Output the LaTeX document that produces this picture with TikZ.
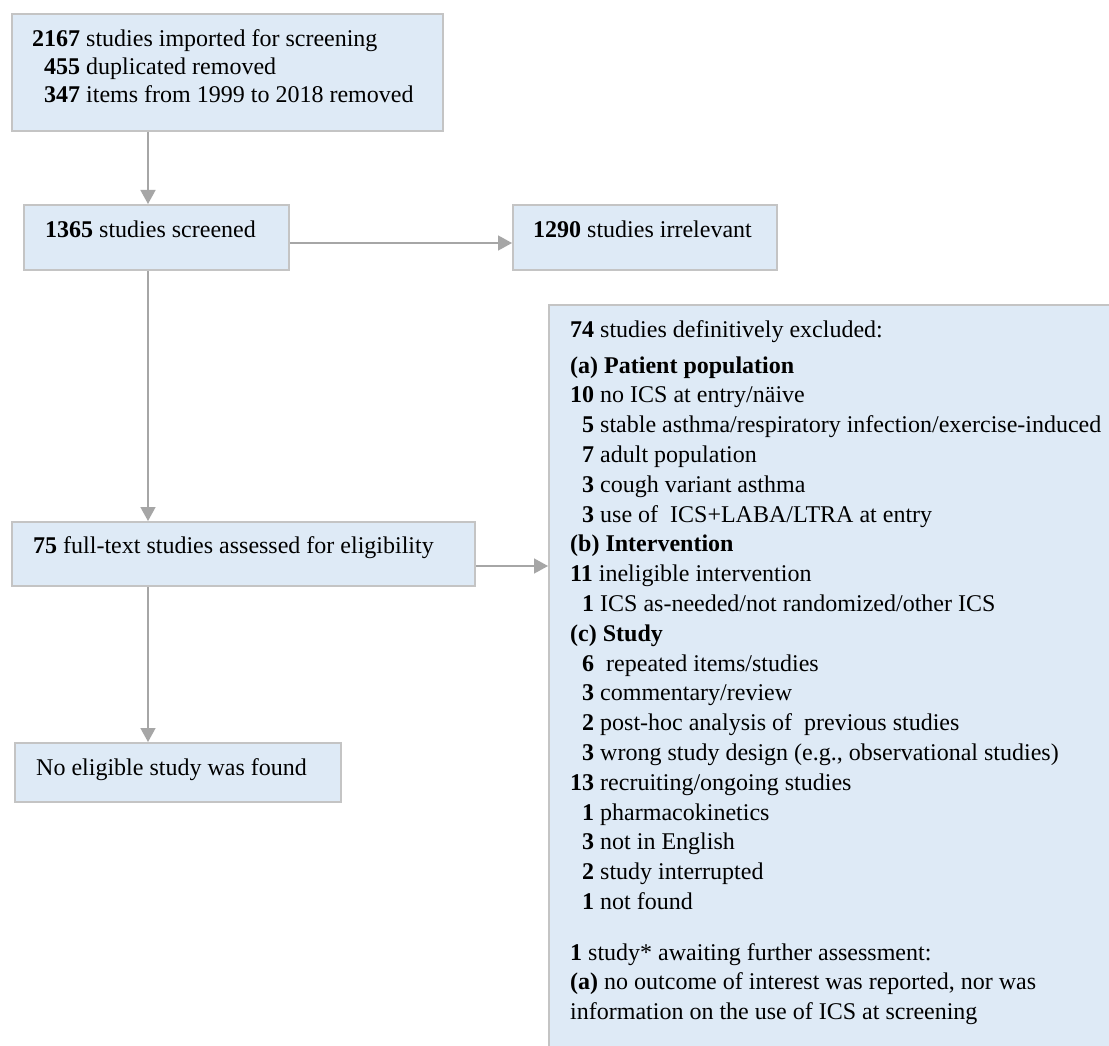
\documentclass[tikz,border=0pt]{standalone}
\usepackage{fontspec}
\setmainfont{Liberation Serif}
\usetikzlibrary{arrows.meta}
\definecolor{boxblue}{RGB}{222,234,246}
\definecolor{boxline}{RGB}{196,196,196}
\definecolor{arrgray}{RGB}{166,166,166}
\newcommand\onedig[1]{\hphantom{\textbf{0}}\textbf{#1}}
\begin{document}
\begin{tikzpicture}[x=1pt,y=-1pt,
  boxnode/.style={draw=boxline,line width=2pt,fill=boxblue,rectangle,inner sep=0pt,anchor=north west},
  txt/.style={anchor=base west,inner sep=0pt,font=\fontsize{24}{29.8}\selectfont},
  arr/.style={draw=arrgray,line width=1.6pt,-{Triangle[length=14pt,width=15pt]}}]
\useasboundingbox (0,0) rectangle (1109,1046);
\fill[white] (0,0) rectangle (1109,1046);
% boxes
\node[boxnode,minimum width=431pt,minimum height=117pt] (b1) at (11,13) {};
\node[boxnode,minimum width=265pt,minimum height=65pt] (b2) at (23,204) {};
\node[boxnode,minimum width=264pt,minimum height=65pt] (b3) at (512,204) {};
\node[boxnode,minimum width=463pt,minimum height=64pt] (b4) at (11,521) {};
\node[boxnode,minimum width=326pt,minimum height=59pt] (b5) at (14,742) {};
\node[boxnode,minimum width=620pt,minimum height=780pt] (big) at (548,304) {};
% texts
\node[txt] (t1a) at (32,47) {\textbf{2167} studies imported for screening};
\node[txt] (t1b) at (32,75) {\onedig{455} duplicated removed};
\node[txt] (t1c) at (32,103) {\onedig{347} items from 1999 to 2018 removed};
\node[txt] (t2) at (45,237) {\textbf{1365} studies screened};
\node[txt] (t3) at (533,237) {\textbf{1290} studies irrelevant};
\node[txt] (t4) at (33,553) {\textbf{75} full-text studies assessed for eligibility};
\node[txt] (t5) at (36,775) {No eligible study was found};
\node[txt] (g0) at (570,337) {\textbf{74} studies definitively excluded:};
\node[txt] (g1) at (570,373.0) {\textbf{(a) Patient population}};
\node[txt] (g2) at (570,402.8) {\textbf{10} no ICS at entry/näive};
\node[txt] (g3) at (570,432.6) {\onedig{5} stable asthma/respiratory infection/exercise-induced};
\node[txt] (g4) at (570,462.4) {\onedig{7} adult population};
\node[txt] (g5) at (570,492.2) {\onedig{3} cough variant asthma};
\node[txt] (g6) at (570,522.0) {\onedig{3} use of\ \ ICS+LABA/LTRA at entry};
\node[txt] (g7) at (570,551.8) {\textbf{(b) Intervention}};
\node[txt] (g8) at (570,581.6) {\textbf{11} ineligible intervention};
\node[txt] (g9) at (570,611.4) {\onedig{1} ICS as-needed/not randomized/other ICS};
\node[txt] (g10) at (570,641.2) {\textbf{(c) Study}};
\node[txt] (g11) at (570,671.0) {\onedig{6}\ \ repeated items/studies};
\node[txt] (g12) at (570,700.8) {\onedig{3} commentary/review};
\node[txt] (g13) at (570,730.6) {\onedig{2} post-hoc analysis of\ \ previous studies};
\node[txt] (g14) at (570,760.4) {\onedig{3} wrong study design (e.g., observational studies)};
\node[txt] (g15) at (570,790.2) {\textbf{13} recruiting/ongoing studies};
\node[txt] (g16) at (570,820.0) {\onedig{1} pharmacokinetics};
\node[txt] (g17) at (570,849.8) {\onedig{3} not in English};
\node[txt] (g18) at (570,879.6) {\onedig{2} study interrupted};
\node[txt] (g19) at (570,909.4) {\onedig{1} not found};
\node[txt] (g20) at (570,960) {\textbf{1} study* awaiting further assessment:};
\node[txt] (g21) at (570,989.8) {\textbf{(a)} no outcome of interest was reported, nor was};
\node[txt] (g22) at (570,1019.6) {information on the use of ICS at screening};
% connectors
\coordinate (ax) at (148,0);
\coordinate (ay1) at (0,243);
\coordinate (ay2) at (0,566);
\draw[arr] (b1.south -| ax) -- (b2.north -| ax);
\draw[arr] (b2.south -| ax) -- (b4.north -| ax);
\draw[arr] (b4.south -| ax) -- (b5.north -| ax);
\draw[arr] (b2.east |- ay1) -- (b3.west |- ay1);
\draw[arr] (b4.east |- ay2) -- (big.west |- ay2);
\end{tikzpicture}
\end{document}
